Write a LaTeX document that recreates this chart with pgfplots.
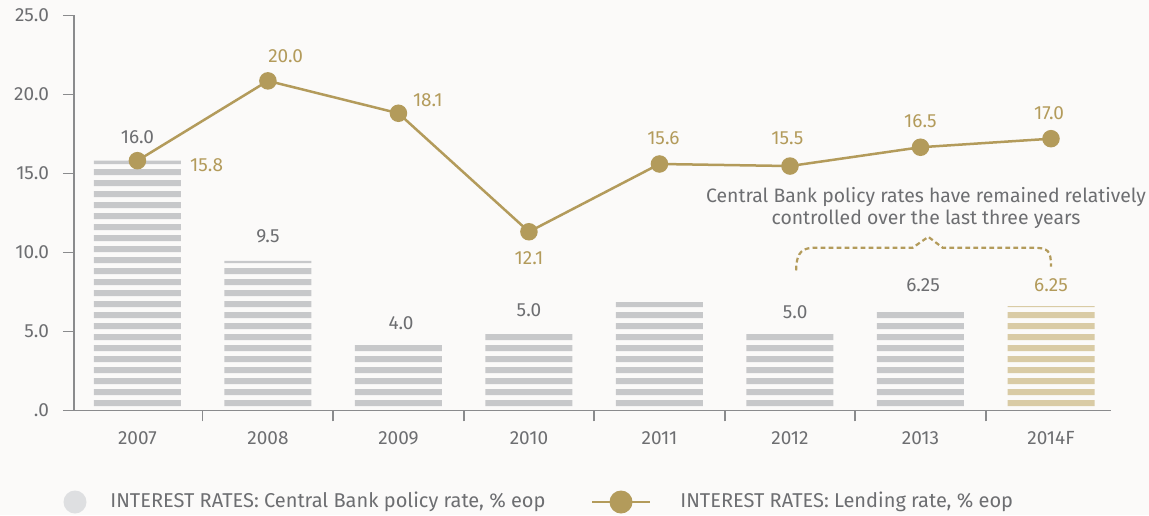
\documentclass[border=0pt]{standalone}
\usepackage{fontspec}
\setmainfont{Fira Sans}
\usepackage{pgfplots}
\pgfplotsset{compat=1.18}
\usetikzlibrary{patterns}

\definecolor{bgcol}{HTML}{FBFAF9}
\definecolor{txtgrey}{HTML}{6D6E71}
\definecolor{axisgrey}{HTML}{8A8B8D}
\definecolor{bargrey}{HTML}{C7C8CA}
\definecolor{bargold}{HTML}{D9CBA5}
\definecolor{goldc}{HTML}{B39B5B}
\definecolor{leggrey}{HTML}{DEDFE1}

% horizontal stripes, period 5.35pt; wide tile so no vertical seams
\pgfdeclarepatternformonly{hstripes}{\pgfqpoint{0pt}{0pt}}{\pgfqpoint{700pt}{5.35pt}}{\pgfqpoint{700pt}{5.35pt}}{%
  \pgfpathrectangle{\pgfqpoint{0pt}{0.9pt}}{\pgfqpoint{700pt}{3.2pt}}\pgfusepath{fill}}

\begin{document}
\begin{tikzpicture}[font=\fontsize{9.5}{11}\selectfont, text=txtgrey]
\fill[bgcol] (-37pt,-52.35pt) rectangle (537.5pt,205.15pt);
\useasboundingbox (-37pt,-52.35pt) rectangle (537.5pt,205.15pt);
\begin{axis}[
  at={(0,0)}, anchor=south west,
  scale only axis, width=518.5pt, height=197.5pt,
  xmin=-0.486, xmax=7.46, ymin=0, ymax=25,
  axis lines*=left,
  axis line style={draw=axisgrey, line width=0.8pt},
  tick align=outside, major tick length=5.5pt,
  tick style={draw=axisgrey, line width=0.8pt},
  xtick={0.5,1.5,...,6.5}, xticklabel=\empty,
  extra x ticks={0,...,7},
  extra x tick labels={2007,2008,2009,2010,2011,2012,2013,2014F},
  extra x tick style={major tick length=0pt, xticklabel style={yshift=-7pt}},
  ytick={0,5,...,25},
  yticklabels={.0,5.0,10.0,15.0,20.0,25.0},
  yticklabel style={xshift=-3.5pt},
  ticklabel style={font=\fontsize{9.5}{11}\selectfont, text=txtgrey},
  clip=false,
]
\addplot[ybar, bar width=43.5pt, bar shift=0pt, draw=none, pattern=hstripes, pattern color=bargrey]
  coordinates {(0,15.8)(1,9.45)(2,4.25)(3,5.0)(4,6.85)(5,4.97)(6,6.35)};
\addplot[ybar, bar width=43.5pt, bar shift=0pt, draw=none, pattern=hstripes, pattern color=bargold]
  coordinates {(7,6.56)};
\addplot[goldc, line width=1.25pt, mark=*, mark size=3.75pt, mark options={draw=none, fill=goldc}]
  coordinates {(0,15.8)(1,20.85)(2,18.8)(3,11.3)(4,15.59)(5,15.46)(6,16.65)(7,17.19)};

% bar labels
\node at (0,17.3) {16.0};
\node at (1,11.03) {9.5};
\node at (2.02,5.53) {4.0};
\node at (3,6.35) {5.0};
\node at (5.04,6.22) {5.0};
\node at (6.02,7.93) {6.25};
\node[text=goldc] at (7,7.93) {6.25};
% lending rate labels
\node[text=goldc] at (0.53,15.53) {15.8};
\node[text=goldc] at (1.136,22.44) {20.0};
\node[text=goldc] at (2.225,19.64) {18.1};
\node[text=goldc] at (3.0,9.64) {12.1};
\node[text=goldc] at (4.03,17.25) {15.6};
\node[text=goldc] at (4.98,17.2) {15.5};
\node[text=goldc] at (6.0,18.3) {16.5};
\node[text=goldc] at (6.985,18.8) {17.0};

% brace
\draw[goldc, line width=1.1pt, dash pattern=on 2.4pt off 1.6pt]
  (5.047,8.85) .. controls (5.05,10.1) and (5.1,10.29) .. (5.2,10.29)
  -- (5.94,10.29) -- (6.06,10.98) -- (6.17,10.29) -- (6.86,10.29)
  .. controls (6.98,10.29) and (7.0,10.1) .. (7.0,9.1);
\end{axis}

\node[align=center, font=\fontsize{9.7}{11}\selectfont] at (426pt,101.15pt)
  {Central Bank policy rates have remained relatively\\controlled over the last three years};

% legend
\fill[leggrey] (0.5pt,-45.85pt) circle (5.75pt);
\node[anchor=west, inner sep=0pt, font=\fontsize{10}{12}\selectfont] at (18pt,-45.85pt)
  {INTEREST RATES: Central Bank policy rate, \% eop};
\draw[goldc, line width=1.25pt] (259pt,-45.85pt) -- (288pt,-45.85pt);
\fill[goldc] (273.5pt,-45.85pt) circle (5.75pt);
\node[anchor=west, inner sep=0pt, font=\fontsize{10}{12}\selectfont] at (303pt,-45.85pt)
  {INTEREST RATES: Lending rate, \% eop};
\end{tikzpicture}
\end{document}
